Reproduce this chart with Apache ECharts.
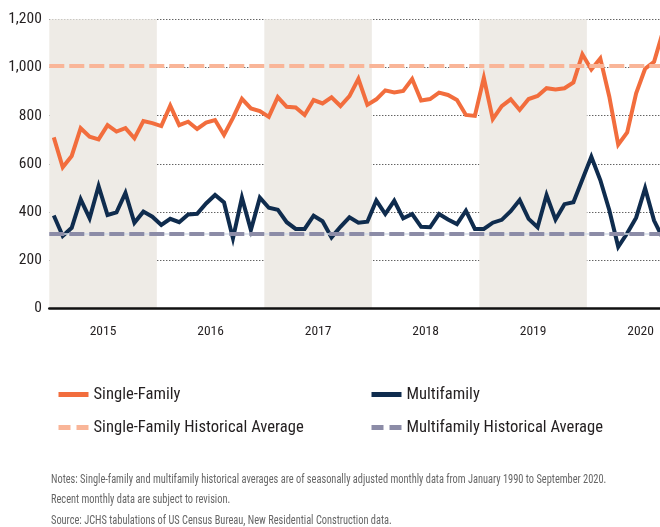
<!DOCTYPE html>
<html lang="en">
<head>
    <meta charset="UTF-8">
    <title>Single-Family and Multifamily Starts</title>
    <script src="https://cdn.jsdelivr.net/npm/echarts@6/dist/echarts.min.js"></script>
    <style>
        html, body { margin: 0; padding: 0; background: #fff; }
        #chart { width: 660px; height: 527px; }
    </style>
</head>
<body>
    <div id="chart"></div>
    <script>
        // data (thousands of units, SAAR)
        const years = ['2015', '2016', '2017', '2018', '2019', '2020'];
        const lastMonth2020 = 9;

        const singleFamily = [
            710, 586, 633, 748, 713, 702, 761, 734, 748, 706, 778, 769,
            757, 842, 761, 775, 745, 771, 782, 720, 791, 870, 830, 819,
            795, 877, 837, 834, 803, 865, 851, 876, 840, 881, 953, 845,
            868, 905, 896, 903, 952, 863, 869, 896, 886, 865, 803, 799,
            957, 786, 840, 868, 824, 869, 882, 914, 909, 914, 938, 1055,
            992, 1038, 880, 680, 731, 893, 995, 1024, 1150
        ];
        const multifamily = [
            386, 301, 335, 453, 374, 508, 388, 399, 480, 356, 402, 381,
            347, 372, 358, 390, 393, 436, 471, 440, 291, 460, 326, 460,
            418, 410, 358, 330, 330, 385, 362, 295, 339, 378, 356, 360,
            448, 392, 447, 374, 392, 339, 337, 392, 369, 350, 406, 330,
            330, 356, 368, 404, 450, 372, 337, 471, 369, 433, 441, 535,
            630, 533, 409, 256, 312, 377, 499, 365, 290
        ];
        const sfAverage = 1008;
        const mfAverage = 309;
        const yTicks = [0, 200, 400, 600, 800, 1000, 1200];

        const notes = [
            'Notes: Single-family and multifamily historical averages are of seasonally adjusted monthly data from January 1990 to September 2020.',
            'Recent monthly data are subject to revision.',
            'Source: JCHS tabulations of US Census Bureau, New Residential Construction data.'
        ];

        // monthly categories
        const months = [];
        years.forEach(y => {
            const n = y === '2020' ? lastMonth2020 : 12;
            for (let m = 1; m <= n; m++) months.push(y + '-' + (m < 10 ? '0' + m : m));
        });

        const FONT = "'Roboto Condensed', 'DejaVu Sans Condensed', sans-serif";
        const ORANGE = '#F26D3D';
        const NAVY = '#0F2C4E';
        const SF_AVG_COLOR = '#F9B598';
        const MF_AVG_COLOR = '#8C8CA7';

        // legend: line only, the symbol is hidden
        const legendBase = {
            top: 381, orient: 'vertical', itemGap: 16,
            itemWidth: 30, itemHeight: 14,
            itemStyle: { opacity: 0 },
            lineStyle: { width: 5 },
            textStyle: { fontFamily: FONT, fontSize: 16.6, color: '#231F20' }
        };

        const chart = echarts.init(document.getElementById('chart'));
        chart.setOption({
            animation: false,
            textStyle: { fontFamily: FONT },
            grid: { left: 49.3, top: 19.3, right: -7.5, bottom: 218.5, outerBoundsMode: 'none', containLabel: false },
            xAxis: {
                type: 'category',
                data: months,
                boundaryGap: true,
                axisLine: { lineStyle: { color: '#111', width: 2.5 } },
                axisTick: { show: false },
                axisLabel: {
                    interval: (i) => i % 12 === 6,
                    formatter: (v) => v.slice(0, 4),
                    fontFamily: FONT,
                    fontSize: 13.5,
                    color: '#231F20',
                    margin: 16,
                    padding: [0, 9, 0, 0]
                },
                splitArea: {
                    show: true,
                    interval: 11,
                    areaStyle: { color: ['#EEEBE6', 'rgba(255,255,255,0)'] }
                }
            },
            yAxis: {
                type: 'value',
                min: yTicks[0],
                max: yTicks[yTicks.length - 1],
                interval: 200,
                axisLine: { show: false },
                axisTick: { show: false },
                axisLabel: {
                    formatter: (v) => v.toLocaleString('en-US'),
                    fontFamily: FONT,
                    fontSize: 15.5,
                    color: '#231F20',
                    margin: 7.5
                },
                splitLine: { lineStyle: { color: '#222', width: 1, type: [1, 2] } }
            },
            legend: [
                Object.assign({ left: 51, data: ['Single-Family', 'Single-Family Historical Average'] }, legendBase),
                Object.assign({ left: 364, data: ['Multifamily', 'Multifamily Historical Average'] }, legendBase)
            ],
            graphic: notes.map((t, i) => ({
                type: 'text',
                left: 51,
                top: 474 + [0, 20, 41][i],
                scaleX: 0.865,
                style: { text: t, fontFamily: FONT, fontSize: 12, fill: '#666' }
            })),
            series: [
                {
                    name: 'Single-Family Historical Average',
                    type: 'line',
                    data: [],
                    symbol: 'none',
                    itemStyle: { color: SF_AVG_COLOR },
                    lineStyle: { color: SF_AVG_COLOR, width: 4, type: [12, 6] },
                    markLine: {
                        silent: true, symbol: 'none', label: { show: false },
                        lineStyle: { color: SF_AVG_COLOR, width: 4, type: [15, 5] },
                        data: [{ yAxis: sfAverage }]
                    }
                },
                {
                    name: 'Multifamily Historical Average',
                    type: 'line',
                    data: [],
                    symbol: 'none',
                    itemStyle: { color: MF_AVG_COLOR },
                    lineStyle: { color: MF_AVG_COLOR, width: 4, type: [12, 6] },
                    markLine: {
                        silent: true, symbol: 'none', label: { show: false },
                        data: [
                            { yAxis: mfAverage, lineStyle: { color: '#D6DEE8', width: 1.5, type: 'solid' } },
                            { yAxis: mfAverage, lineStyle: { color: MF_AVG_COLOR, width: 4, type: [15, 5] } }
                        ]
                    }
                },
                {
                    name: 'Single-Family',
                    type: 'line',
                    data: singleFamily,
                    symbol: 'none',
                    itemStyle: { color: ORANGE },
                    lineStyle: { color: ORANGE, width: 4, join: 'miter' }
                },
                {
                    name: 'Multifamily',
                    type: 'line',
                    data: multifamily,
                    symbol: 'none',
                    itemStyle: { color: NAVY },
                    lineStyle: { color: NAVY, width: 4, join: 'miter' }
                }
            ]
        });
    </script>
</body>
</html>
